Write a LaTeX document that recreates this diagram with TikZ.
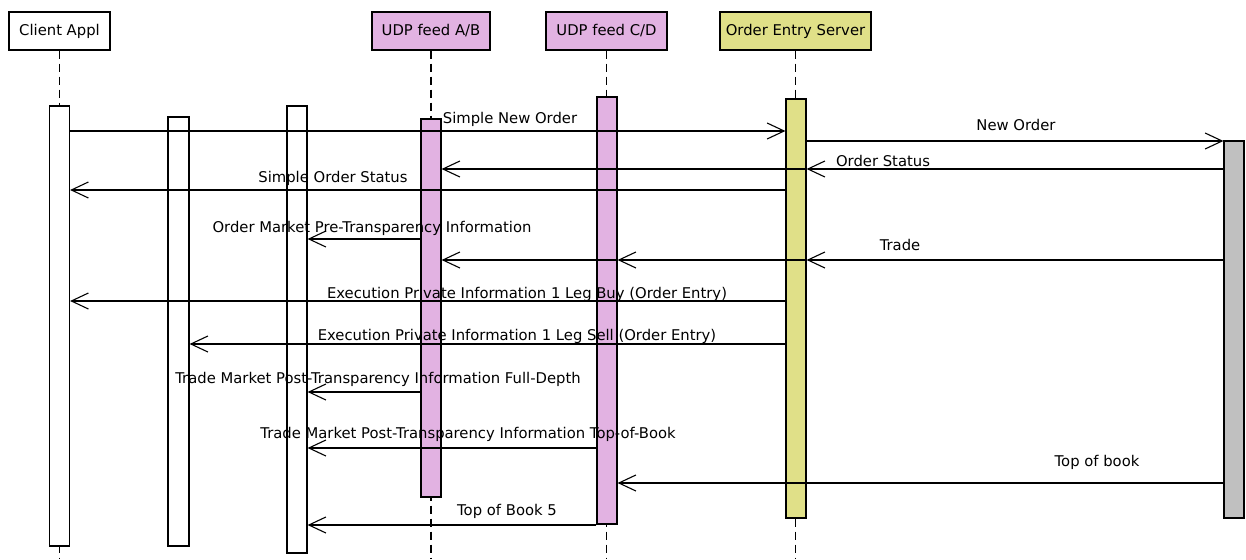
\documentclass[tikz,border=0pt]{standalone}
\usepackage{fontspec}
\setmainfont{DejaVu Sans}
\usetikzlibrary{arrows.meta}
\definecolor{udp}{RGB}{226,178,226}
\definecolor{oes}{RGB}{224,224,136}
\definecolor{ext}{RGB}{192,192,192}
\begin{document}
\begin{tikzpicture}[x=1pt,y=-1pt,
  txt/.style={font=\fontsize{14.8}{17}\selectfont},
  head/.style={draw, line width=1.2pt, minimum height=38pt, inner sep=0pt, txt},
  bar/.style={draw, line width=1.2pt, minimum width=20pt, inner sep=0pt},
  life/.style={line width=1.1pt, dash pattern=on 8pt off 5pt},
  msg/.style={line width=1.1pt, -{Straight Barb[length=17pt,width=16pt,line width=1.1pt]}},
  lbl/.style={txt, anchor=base, inner sep=0pt}]
\useasboundingbox (0,0) rectangle (1246,559);
% heads
\node[head, fill=white, minimum width=101pt] (client) at (59.5,31) {Client Appl};
\node[head, fill=udp, minimum width=118pt] (ab) at (431,31) {UDP feed A/B};
\node[head, fill=udp, minimum width=121pt] (cd) at (606.5,31) {UDP feed C/D};
\node[head, fill=oes, minimum width=151pt] (oe) at (795.5,31) {Order Entry Server};
% lifeline ends
\coordinate (clientend) at (59.5,559);
\coordinate (abend) at (431,559);
\coordinate (cdend) at (607,559);
\coordinate (oeend) at (796,559);
\draw[life] (client.south) -- (client.south |- clientend);
\draw[life] (ab.south) -- (ab.south |- abend);
\draw[life] (cd.south) -- (cd.south |- cdend);
\draw[life] (oe.south) -- (oe.south |- oeend);
% activation bars
\node[bar, fill=white, minimum height=440pt] (cbar) at (59.5,326) {};
\node[bar, fill=white, minimum width=21pt, minimum height=429pt] (b2) at (178.5,331.5) {};
\node[bar, fill=white, minimum height=447pt] (b3) at (297,329.5) {};
\node[bar, fill=udp, minimum height=378pt] (abbar) at (431,308) {};
\node[bar, fill=udp, minimum height=427pt] (cdbar) at (607,310.5) {};
\node[bar, fill=oes, minimum height=419pt] (oebar) at (796,308.5) {};
\node[bar, fill=ext, minimum height=377pt] (gbar) at (1234,329.5) {};
% messages
\draw[msg] (cbar.east |- 0,131) -- (oebar.west |- 0,131);
\node[lbl] (l1) at (510,124) {Simple New Order};
\draw[msg] (oebar.east |- 0,141) -- (gbar.west |- 0,141);
\node[lbl] (l2) at (1016,131) {New Order};
\draw[msg] (gbar.west |- 0,169) -- (oebar.east |- 0,169);
\draw[msg] (oebar.east |- 0,169) -- (abbar.east |- 0,169);
\node[lbl] (l3) at (883,166) {Order Status};
\draw[msg] (oebar.west |- 0,190) -- (cbar.east |- 0,190);
\node[lbl] (l4) at (333,182) {Simple Order Status};
\draw[msg] (abbar.west |- 0,239) -- (b3.east |- 0,239);
\node[lbl] (l5) at (372,232) {Order Market Pre-Transparency Information};
\draw[msg] (gbar.west |- 0,260) -- (oebar.east |- 0,260);
\draw[msg] (oebar.east |- 0,260) -- (cdbar.east |- 0,260);
\draw[msg] (cdbar.east |- 0,260) -- (abbar.east |- 0,260);
\node[lbl] (l6) at (900,250) {Trade};
\draw[msg] (oebar.west |- 0,301) -- (cbar.east |- 0,301);
\node[lbl] (l7) at (527,298) {Execution Private Information 1 Leg Buy (Order Entry)};
\draw[msg] (oebar.west |- 0,344) -- (b2.east |- 0,344);
\node[lbl] (l8) at (517,340) {Execution Private Information 1 Leg Sell (Order Entry)};
\draw[msg] (abbar.west |- 0,392) -- (b3.east |- 0,392);
\node[lbl] (l9) at (378,383) {Trade Market Post-Transparency Information Full-Depth};
\draw[msg] (cdbar.west |- 0,448) -- (b3.east |- 0,448);
\node[lbl] (l10) at (468,438) {Trade Market Post-Transparency Information Top-of-Book};
\draw[msg] (gbar.west |- 0,483) -- (cdbar.east |- 0,483);
\node[lbl] (l11) at (1097,466) {Top of book};
\draw[msg] (cdbar.west |- 0,525) -- (b3.east |- 0,525);
\node[lbl] (l12) at (507,515) {Top of Book 5};
\end{tikzpicture}
\end{document}
